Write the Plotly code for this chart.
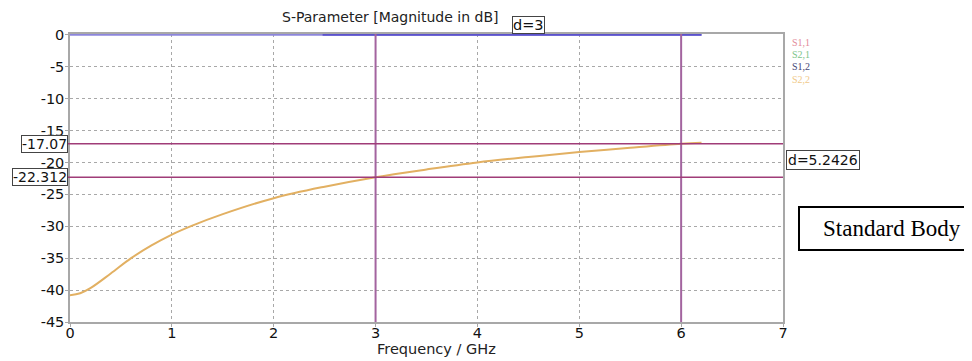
import plotly.graph_objects as go

# ---- data ----
freq_ghz = [0.0, 0.1, 0.2, 0.4, 0.6, 0.8, 1.0, 1.2, 1.5, 2.0, 2.5, 3.0, 3.5, 4.0, 4.5, 5.0, 5.5, 6.0, 6.2]
s22_db = [-40.8, -40.5, -39.7, -37.4, -35.0, -33.0, -31.3, -29.9, -28.1, -25.6, -23.8, -22.31, -21.1, -20.0, -19.15, -18.38, -17.7, -17.07, -16.9]
top_x = [0.0, 6.2]
top_y = [0.0, 0.0]
dim_x = [2.48, 6.2]
marker_x = [3, 6]
marker_y = [-17.07, -22.312]
marker_y_labels = ["-17.07", "-22.312"]
dim_labels = ["d=3", "d=5.2426"]
x_ticks = [0, 1, 2, 3, 4, 5, 6, 7]
y_ticks = [0, -5, -10, -15, -20, -25, -30, -35, -40, -45]
y_tick_labels = ["0", "-5", "-10", "-15", "-20", "-25", "-30", "-35", "-40", "-45"]
legend_names = ["S1,1", "S2,1", "S1,2", "S2,2"]
legend_colors = ["#e38a9a", "#7cc48a", "#454575", "#f0c98a"]

# page is rendered with an 8px body margin; compensate
OFF = 8
W, H = 972 - OFF, 361 - OFF
L, R, T, B = 70, 783, 34, 322          # plot area in page pixels
def px(p):
    return (p - L) / (R - L)
def py(q):
    return (B - q) / (B - T)

FONT = "DejaVu Sans"

fig = go.Figure()
fig.add_trace(go.Scatter(x=top_x, y=top_y, mode="lines",
                         line=dict(color="#8c86dc", width=2), showlegend=False, hoverinfo="skip"))
fig.add_trace(go.Scatter(x=dim_x, y=[0, 0], mode="lines",
                         line=dict(color="#5b52cc", width=2), showlegend=False, hoverinfo="skip"))
fig.add_trace(go.Scatter(x=freq_ghz, y=s22_db, mode="lines", line_shape="spline",
                         line=dict(color="#e2b062", width=2), name="S2,2", showlegend=False))

# markers
for mx in marker_x:
    fig.add_shape(type="line", xref="x", yref="paper", x0=mx, x1=mx, y0=0, y1=1,
                  line=dict(color="#a3649f", width=2), layer="above")
for my in marker_y:
    fig.add_shape(type="line", xref="paper", yref="y", x0=px(68), x1=1, y0=my, y1=my,
                  line=dict(color="#a03c78", width=1.5), layer="above")
for my, lab in zip(marker_y, marker_y_labels):
    fig.add_annotation(x=px(68), xref="paper", y=my, yref="y", text=lab, showarrow=False,
                       xanchor="right", yanchor="middle", font=dict(family=FONT, size=14, color="#111"),
                       bgcolor="white", bordercolor="#444", borderwidth=1, borderpad=0)

fig.add_annotation(x=(marker_x[0] + marker_x[1]) / 2, xref="x", y=1, yref="paper", yanchor="bottom",
                   text=dim_labels[0], showarrow=False,
                   font=dict(family=FONT, size=14.5, color="#111"),
                   bgcolor="white", bordercolor="#444", borderwidth=1, borderpad=0)
fig.add_annotation(x=1, xref="paper", xshift=3, y=(marker_y[0] + marker_y[1]) / 2, yref="y",
                   xanchor="left", yanchor="middle",
                   text=dim_labels[1], showarrow=False,
                   font=dict(family=FONT, size=14, color="#111"),
                   bgcolor="white", bordercolor="#444", borderwidth=1, borderpad=1)

# legend text
for i, (nm, c) in enumerate(zip(legend_names, legend_colors)):
    fig.add_annotation(x=px(790), xref="paper", y=py(42 + i * 12.4), yref="paper", xanchor="left",
                       yanchor="middle", text=nm, showarrow=False,
                       font=dict(family="Liberation Serif", size=10, color=c))

# title and x-axis title
fig.add_annotation(x=px(390), xref="paper", y=py(17), yref="paper", text="S-Parameter [Magnitude in dB]",
                   showarrow=False, xanchor="center", yanchor="middle",
                   font=dict(family=FONT, size=14, color="#222"))
fig.add_annotation(x=px(436), xref="paper", y=py(349), yref="paper", text="Frequency / GHz",
                   showarrow=False, xanchor="center", yanchor="middle",
                   font=dict(family=FONT, size=14.5, color="#222"))

# Standard Body box
fig.add_shape(type="rect", xref="paper", yref="paper", x0=px(799), x1=px(990), y0=py(250), y1=py(207),
              line=dict(color="black", width=2), fillcolor="white", layer="above")
fig.add_annotation(x=px(892), xref="paper", y=py(229), yref="paper", text="Standard Body",
                   showarrow=False, xanchor="center", yanchor="middle",
                   font=dict(family="Liberation Serif", size=23, color="black"))

fig.update_xaxes(range=[0, 7], tickvals=x_ticks, ticktext=[str(t) for t in x_ticks],
                 showgrid=True, gridcolor="#a8a8a8", griddash="dot", gridwidth=1,
                 showline=True, linecolor="#a8a8a8", linewidth=1.5, mirror=True,
                 ticks="outside", ticklen=3, tickcolor="#a8a8a8", ticklabelstandoff=-6,
                 tickfont=dict(family=FONT, size=14.5, color="#111"), zeroline=False, automargin=False)
fig.update_yaxes(range=[-45, 0.12], tickvals=y_ticks, ticktext=y_tick_labels,
                 showgrid=True, gridcolor="#a8a8a8", griddash="dot", gridwidth=1,
                 showline=True, linecolor="#a8a8a8", linewidth=1.5, mirror=True,
                 ticks="outside", ticklen=3, tickcolor="#a8a8a8", ticklabelstandoff=-2,
                 tickfont=dict(family=FONT, size=14.5, color="#111"), zeroline=False, automargin=False)

fig.update_layout(width=W, height=H,
                  margin=dict(l=L - OFF, r=W - (R - OFF), t=T - OFF, b=H - (B - OFF)),
                  plot_bgcolor="white", paper_bgcolor="white", showlegend=False)

fig.write_html("out.html")
